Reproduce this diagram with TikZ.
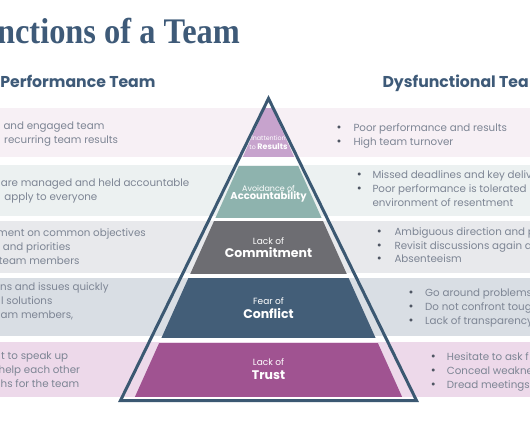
\documentclass[tikz,border=0pt]{standalone}
\usepackage{fontspec}
\setmainfont{Poppins}
\newfontfamily\titlefont{Liberation Serif}
\definecolor{titleblue}{HTML}{3E5A78}
\definecolor{outlinec}{HTML}{3B5872}
\definecolor{layA}{HTML}{C7A3CD}
\definecolor{layB}{HTML}{8EB3AE}
\definecolor{layC}{HTML}{6D6D72}
\definecolor{layD}{HTML}{435E78}
\definecolor{layE}{HTML}{A05391}
\definecolor{bandA}{HTML}{F7F0F5}
\definecolor{bandB}{HTML}{ECF1F1}
\definecolor{bandC}{HTML}{E8E9EC}
\definecolor{bandD}{HTML}{D9DEE4}
\definecolor{bandE}{HTML}{EDD9EA}
\definecolor{bodygray}{HTML}{7D8594}
\definecolor{bulgray}{HTML}{4F5663}
\begin{document}
\begin{tikzpicture}[x=1pt,y=-1pt,
  bodytxt/.style={font=\fontsize{10.3}{12}\selectfont, text=bodygray, inner sep=0pt},
  lefttxt/.style={bodytxt, anchor=base west},
  righttxt/.style={bodytxt, anchor=base west},
  bul/.style={font=\fontsize{12}{12}\selectfont, text=bulgray, inner sep=0pt, anchor=base},
  head/.style={font=\fontsize{15.7}{17}\selectfont\bfseries, text=titleblue, inner sep=0pt},
  labsmall/.style={text=white, inner sep=0pt, anchor=base},
  labbig/.style={text=white, inner sep=0pt, anchor=base, font=\fontsize{12.5}{13}\selectfont\bfseries},
  innertri/.style={insert path={(268.5,100) -- (133.5,400) -- (403.5,400) -- cycle}}
]
\useasboundingbox (0,0) rectangle (530,442);
\clip (0,0) rectangle (530,442);
\fill[white] (0,0) rectangle (530,442);

% background bands
\fill[bandA] (0,108) rectangle (530,157);
\fill[bandB] (0,165) rectangle (530,216);
\fill[bandC] (0,220.5) rectangle (530,273);
\fill[bandD] (0,277.5) rectangle (530,335.5);
\fill[bandE] (0,341.5) rectangle (530,396.5);

% pyramid layers
\begin{scope}\clip (0,108) rectangle (530,156);\fill[layA][innertri];\end{scope}
\begin{scope}\clip (0,166) rectangle (530,217);\fill[layB][innertri];\end{scope}
\begin{scope}\clip (0,221) rectangle (530,273);\fill[layC][innertri];\end{scope}
\begin{scope}\clip (0,278) rectangle (530,337);\fill[layD][innertri];\end{scope}
\begin{scope}\clip (0,343) rectangle (530,396);\fill[layE][innertri];\end{scope}

% outline
\draw[outlinec, line width=3pt, line join=miter] (268.5,98.5) -- (120.5,400.5) -- (416.5,400.5) -- cycle;

% title and headings
\node[inner sep=0pt, anchor=base east, text=titleblue] (title) at (240,43)
  {\scalebox{0.9}[1]{\titlefont\fontsize{36}{40}\selectfont\bfseries nctions of a Team}};
\node[head, anchor=base east] (hleft) at (155.7,87.3) {Performance Team};
\node[head, anchor=base west] (hright) at (382.3,87.3) {Dysfunctional Tea};

% pyramid labels
\node[labsmall, font=\fontsize{6.3}{7}\selectfont] (l1a) at (268.5,140) {Inattention};
\node[labsmall] (l1b) at (268.5,149.3) {{\fontsize{6.3}{7}\selectfont to }{\fontsize{8}{9}\selectfont\bfseries Results}};
\node[labsmall, font=\fontsize{8}{9}\selectfont] (l2a) at (268.5,191) {Avoidance of};
\node[labsmall, font=\fontsize{10}{11}\selectfont\bfseries] (l2b) at (268.5,199.5) {Accountability};
\node[labsmall, font=\fontsize{9}{10}\selectfont] (l3a) at (268.5,244) {Lack of};
\node[labbig] (l3b) at (268.5,257) {Commitment};
\node[labsmall, font=\fontsize{9}{10}\selectfont] (l4a) at (268.5,304.3) {Fear of};
\node[labbig] (l4b) at (268.5,318.3) {Conflict};
\node[labsmall, font=\fontsize{9}{10}\selectfont] (l5a) at (268.5,365.7) {Lack of};
\node[labbig] (l5b) at (268.5,379) {Trust};

% left texts
\node[lefttxt] (a1) at (3.3,129.3) {and engaged team};
\node[lefttxt] (a2) at (4,143.3) {recurring team results};
\node[lefttxt] (b1) at (0.7,186) {are managed and held accountable};
\node[lefttxt] (b2) at (4.3,200) {apply to everyone};
\node[lefttxt] (c1) at (-3,236.7) {ment on common objectives};
\node[lefttxt] (c2) at (2.7,250.7) {and priorities};
\node[lefttxt] (c3) at (-1.3,264.3) {team members};
\node[lefttxt] (d1) at (0,290.7) {ns and issues quickly};
\node[lefttxt] (d2) at (1,304.7) {l solutions};
\node[lefttxt] (d3) at (0.5,318.7) {am members,};
\node[lefttxt] (e1) at (1,359) {t to speak up};
\node[lefttxt] (e2) at (-1.5,373) {help each other};
\node[lefttxt] (e3) at (0.5,387) {hs for the team};

% right texts
\node[bul] (pa1) at (339,131) {•};
\node[righttxt] (ra1) at (353.3,131) {Poor performance and results};
\node[bul] (pa2) at (339,145) {•};
\node[righttxt] (ra2) at (353.3,145) {High team turnover};

\node[bul] (pb1) at (359.3,178.3) {•};
\node[righttxt] (rb1) at (372.3,178.3) {Missed deadlines and key deliv};
\node[bul] (pb2) at (359.3,192.7) {•};
\node[righttxt] (rb2) at (372.3,192.7) {Poor performance is tolerated};
\node[righttxt] (rb3) at (372.3,206.7) {environment of resentment};

\node[bul] (pc1) at (379.3,235.7) {•};
\node[righttxt] (rc1) at (394.3,235.7) {Ambiguous direction and p};
\node[bul] (pc2) at (379.3,249) {•};
\node[righttxt] (rc2) at (394.3,249) {Revisit discussions again a};
\node[bul] (pc3) at (379.3,262.7) {•};
\node[righttxt] (rc3) at (394.3,262.7) {Absenteeism};

\node[bul] (pd1) at (411,296) {•};
\node[righttxt] (rd1) at (425,296) {Go around problems};
\node[bul] (pd2) at (411,310) {•};
\node[righttxt] (rd2) at (425,310) {Do not confront toug};
\node[bul] (pd3) at (411,324.3) {•};
\node[righttxt] (rd3) at (425,324.3) {Lack of transparency};

\node[bul] (pe1) at (433.3,360) {•};
\node[righttxt] (re1) at (446.7,360) {Hesitate to ask f};
\node[bul] (pe2) at (433.3,374) {•};
\node[righttxt] (re2) at (446.7,374) {Conceal weakne};
\node[bul] (pe3) at (433.3,388.3) {•};
\node[righttxt] (re3) at (446.7,388.3) {Dread meetings};
\end{tikzpicture}
\end{document}
